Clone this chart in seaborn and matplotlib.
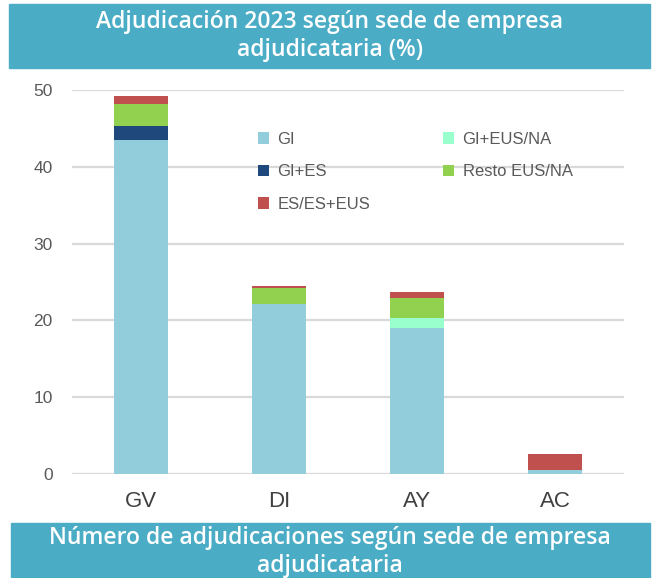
import numpy as np
import pandas as pd
import matplotlib
matplotlib.use("Agg")
import matplotlib.pyplot as plt
import seaborn as sns
from matplotlib.patches import Patch, Rectangle

# data (%)
categories = ["GV", "DI", "AY", "AC"]
series = ["GI", "GI+ES", "GI+EUS/NA", "Resto EUS/NA", "ES/ES+EUS"]
gi = [43.5, 22.1, 19.0, 0.5]
gi_es = [1.8, 0.0, 0.0, 0.0]
gi_eus = [0.0, 0.0, 1.3, 0.0]
resto = [2.9, 2.1, 2.6, 0.0]
es = [1.0, 0.3, 0.8, 2.1]
colors = ["#92CDDC", "#1F497D", "#99FFCC", "#92D050", "#C0504D"]

values = pd.DataFrame([gi, gi_es, gi_eus, resto, es], index=series, columns=categories).T
cum = values.cumsum(axis=1)

sns.set_style("white")
plt.rcParams["font.family"] = ["Liberation Sans", "DejaVu Sans"]

fig = plt.figure(figsize=(6.52, 5.78), dpi=100)
ax = fig.add_axes([72 / 652, 1 - 474 / 578, 552 / 652, 384 / 578])

# stacked bars: draw cumulative totals from the top layer down
for name, col in reversed(list(zip(series, colors))):
    sns.barplot(x=categories, y=cum[name].values, color=col, width=0.39,
                saturation=1, linewidth=0, edgecolor="none", ax=ax, zorder=3)

ax.set_ylim(0, 50)
ax.set_xlim(-0.5, 3.5)
ax.set_yticks([0, 10, 20, 30, 40, 50])
ax.yaxis.grid(True, color="#D9D9D9", linewidth=1.6, zorder=0)
ax.set_axisbelow(True)
for s in ax.spines.values():
    s.set_visible(False)
ax.tick_params(axis="y", length=0, labelsize=12.5, labelcolor="#595959", pad=14)
ax.tick_params(axis="x", length=0, labelsize=16, labelcolor="#404040", pad=12)
ax.set_xlabel("")
ax.set_ylabel("")

order = [0, 1, 4, 2, 3]
handles = [Patch(facecolor=colors[i], edgecolor="none") for i in order]
labels = [series[i] for i in order]
ax.legend(handles, labels, ncol=2, loc="upper left", bbox_to_anchor=(0.31, 0.93),
          frameon=False, fontsize=12, labelcolor="#595959", handlelength=0.65,
          handleheight=0.65, handletextpad=0.5, columnspacing=4.4, labelspacing=1.05)

# title bands
fig.patches.append(Rectangle((9 / 652, 1 - 68 / 578), 641 / 652, 64 / 578,
                             transform=fig.transFigure, color="#4BACC6", zorder=0))
fig.patches.append(Rectangle((11 / 652, 0), 639 / 652, 55 / 578,
                             transform=fig.transFigure, color="#4BACC6", zorder=0))
fig.text(330 / 652, 1 - 36 / 578, "Adjudicación 2023 según sede de empresa\nadjudicataria (%)",
         ha="center", va="center", color="white", fontsize=16.5, fontfamily="Open Sans",
         fontweight="semibold", linespacing=1.2)
fig.text(330 / 652, 1 - 552 / 578, "Número de adjudicaciones según sede de empresa\nadjudicataria",
         ha="center", va="center", color="white", fontsize=16.5, fontfamily="Open Sans",
         fontweight="semibold", linespacing=1.2)

fig.savefig("out.png", dpi=100)
